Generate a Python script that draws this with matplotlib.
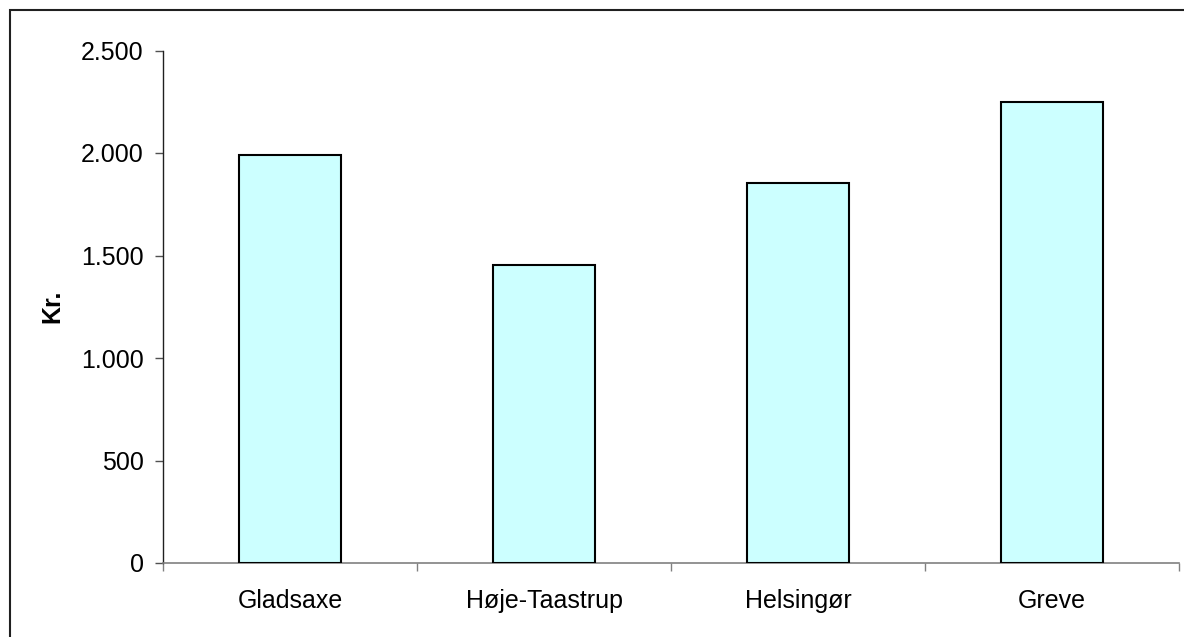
import matplotlib
matplotlib.use("Agg")
import matplotlib.pyplot as plt
from matplotlib.ticker import FuncFormatter, FixedLocator
from matplotlib.patches import Rectangle

categories = ["Gladsaxe", "Høje-Taastrup", "Helsingør", "Greve"]
values = [1990, 1452, 1855, 2250]
y_ticks = [0, 500, 1000, 1500, 2000, 2500]

plt.rcParams['font.family'] = ['Liberation Sans', 'DejaVu Sans']

W, H, DPI = 1184, 637, 100
fig = plt.figure(figsize=(W / DPI, H / DPI), dpi=DPI)
fig.patch.set_facecolor("white")

left, right = 163 / W, 1179 / W
bottom, top = 1 - 563 / H, 1 - 50.5 / H
ax = fig.add_axes([left, bottom, right - left, top - bottom])

x = list(range(len(categories)))
ax.bar(x, values, width=0.4, color="#CCFFFF", edgecolor="black", linewidth=1.5, zorder=3)

ax.set_xlim(-0.5, len(categories) - 0.5)
ax.set_ylim(0, 2500)

ax.yaxis.set_major_locator(FixedLocator(y_ticks))
ax.yaxis.set_major_formatter(FuncFormatter(lambda v, p: f"{int(v):,}".replace(",", ".")))

# category labels at centers, boundary ticks between categories
ax.set_xticks(x)
ax.set_xticklabels(categories)
ax.set_xticks([i - 0.5 for i in range(len(categories) + 1)], minor=True)
ax.tick_params(axis="x", which="major", length=0, pad=19, labelsize=18)
ax.tick_params(axis="x", which="minor", length=6, width=1, color="#808080", direction="out")
ax.tick_params(axis="y", which="major", length=6, width=1, color="#505050", pad=8,
               labelsize=18, direction="out")

for s in ["top", "right"]:
    ax.spines[s].set_visible(False)
ax.spines["left"].set_color("#202020")
ax.spines["left"].set_linewidth(1)
ax.spines["bottom"].set_color("#808080")
ax.spines["bottom"].set_linewidth(1.2)

ax.set_ylabel("Kr.", fontsize=18, fontweight="bold")
ax.yaxis.set_label_coords(-0.097, 0.5)

# outer chart border (right and bottom lie outside the image)
fig.add_artist(Rectangle((10 / W, -0.1), 1.2, 1.1 - 9.5 / H, transform=fig.transFigure,
                         fill=False, edgecolor="#202020", linewidth=1.5))

fig.savefig("out.png", dpi=DPI, facecolor="white")
